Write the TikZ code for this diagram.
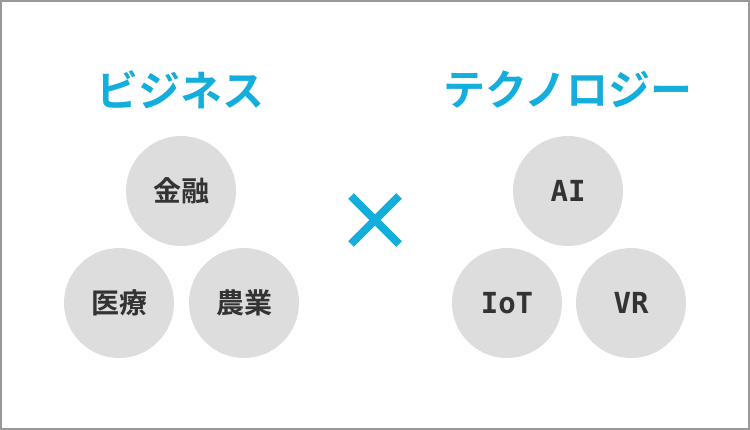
\documentclass[tikz,border=0pt]{standalone}
\usepackage{fontspec}
\newfontfamily\jpfont{Noto Sans CJK JP}[BoldFont={* Bold}]
\newfontfamily\monofont{DejaVu Sans Mono}
\usetikzlibrary{calc,positioning}
\definecolor{accent}{RGB}{20,174,220}
\definecolor{bubblegray}{RGB}{221,221,221}
\definecolor{inkgray}{RGB}{51,51,51}
\tikzset{
  ttl/.style={font=\jpfont\bfseries\fontsize{42}{42}\selectfont, text=accent, inner sep=0pt},
  bubble/.style={circle, fill=bubblegray, minimum size=110pt, inner sep=0pt,
    font=\jpfont\bfseries\fontsize{28}{28}\selectfont, text=inkgray},
  techbubble/.style={bubble, font=\monofont\bfseries\fontsize{29}{29}\selectfont},
  crossbar/.style={draw=accent, line width=8pt},
}
\begin{document}
\begin{tikzpicture}[x=1pt,y=-1pt]
  % frame
  \draw[draw=gray!80, line width=2pt] (1,1) rectangle (749,429);
  \useasboundingbox (0,0) rectangle (750,430);
  % business side
  \node[ttl] (bizttl) at (180,90) {ビジネス};
  \node[bubble] (fin) at (181,191) {金融};
  \node[bubble] (med) at (119,303) {医療};
  \node[bubble] (agri) at (244,303) {農業};
  % technology side
  \node[ttl] (techttl) at (568,90) {テクノロジー};
  \node[techbubble] (ai) at (568,191) {AI};
  \node[techbubble] (iot) at (507,303) {IoT};
  \node[techbubble] (vr) at (631,303) {VR};
  % times sign
  \coordinate (xc) at (375,220);
  \draw[crossbar] ($(xc)+(-24,-24)$) -- ($(xc)+(24,24)$);
  \draw[crossbar] ($(xc)+(-24,24)$) -- ($(xc)+(24,-24)$);
\end{tikzpicture}
\end{document}
